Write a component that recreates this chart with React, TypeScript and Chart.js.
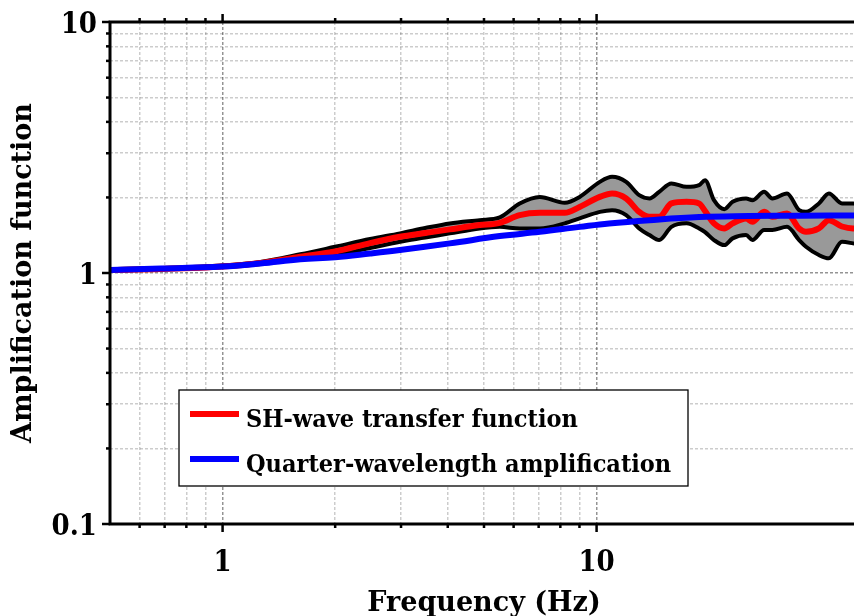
import React, { useEffect, useRef } from 'react';
import { Chart, registerables } from 'chart.js';

Chart.register(...registerables);

// Frequencies (Hz) at which the SH-wave curves were read
const freq = [0.5, 0.683, 1.0, 1.263, 1.614, 2.0, 2.48, 2.98, 3.48, 4.05, 4.87, 5.51, 6.23, 7.05, 8.22, 9.01, 10.2, 11.0, 12.0, 13.0, 13.85, 14.7, 15.85, 17.4, 18.8, 19.5, 20.6, 21.95, 23.1, 25.1, 26.1, 28.05, 29.5, 32.3, 34.8, 36.3, 39.3, 41.8, 45.3, 48.5, 50];
// Upper bound (black)
const upper = [1.037, 1.047, 1.071, 1.106, 1.187, 1.272, 1.365, 1.438, 1.51, 1.576, 1.624, 1.665, 1.893, 2.01, 1.905, 2.01, 2.307, 2.416, 2.307, 2.042, 1.982, 2.105, 2.275, 2.204, 2.239, 2.343, 1.951, 1.796, 1.921, 1.982, 1.951, 2.105, 1.982, 2.075, 1.78, 1.752, 1.893, 2.075, 1.893, 1.893, 1.88];
// Median SH-wave transfer function (red)
const median = [1.028, 1.037, 1.061, 1.096, 1.161, 1.218, 1.316, 1.394, 1.443, 1.492, 1.552, 1.585, 1.701, 1.737, 1.737, 1.834, 2.01, 2.075, 1.982, 1.752, 1.674, 1.674, 1.893, 1.921, 1.893, 1.765, 1.577, 1.505, 1.577, 1.65, 1.6, 1.752, 1.674, 1.727, 1.505, 1.459, 1.505, 1.624, 1.532, 1.505, 1.52];
// Lower bound (black)
const lower = [1.023, 1.033, 1.056, 1.086, 1.137, 1.179, 1.257, 1.332, 1.384, 1.438, 1.505, 1.527, 1.505, 1.505, 1.577, 1.65, 1.752, 1.78, 1.701, 1.505, 1.416, 1.353, 1.527, 1.577, 1.505, 1.455, 1.353, 1.292, 1.374, 1.416, 1.353, 1.483, 1.483, 1.527, 1.353, 1.272, 1.179, 1.144, 1.332, 1.312, 1.3];

// Quarter-wavelength amplification (blue)
const qwlFreq = [0.5, 0.683, 1.0, 1.263, 1.614, 2.0, 2.48, 2.98, 4.05, 5.51, 7.05, 9.01, 10.8, 13.85, 18.8, 25.5, 35, 50];
const qwlAmp = [1.028, 1.042, 1.061, 1.091, 1.134, 1.155, 1.195, 1.234, 1.312, 1.403, 1.459, 1.527, 1.576, 1.624, 1.67, 1.685, 1.692, 1.695];

// Axis ticks
const xTickValues = [0.5, 0.6, 0.7, 0.8, 0.9, 1, 2, 3, 4, 5, 6, 7, 8, 9, 10];
const xTickLabels = ['1', '10'];
const yTickValues = [0.1, 0.2, 0.3, 0.4, 0.5, 0.6, 0.7, 0.8, 0.9, 1, 2, 3, 4, 5, 6, 7, 8, 9, 10];
const yTickLabels = ['0.1', '1', '10'];

const labelSH = 'SH-wave transfer function';
const labelQWL = 'Quarter-wavelength amplification';

const isMajor = (v: number) => Math.abs(Math.log10(v) - Math.round(Math.log10(v))) < 1e-6;
const fmt = (v: number) => (v < 1 ? String(Number(v.toFixed(1))) : String(Math.round(v)));

const FONT = "'DejaVu Serif', serif";
const FONT_COND = "'DejaVu Serif Condensed', 'DejaVu Serif', serif";

const framePlugin = {
  id: 'frame',
  afterDatasetsDraw(chart: any) {
    const { ctx, chartArea: a, scales } = chart;
    const xs = scales.x;
    const ys = scales.y;
    ctx.save();
    ctx.strokeStyle = '#000';
    ctx.lineCap = 'butt';
    ctx.lineWidth = 2.5;
    for (const v of xTickValues) {
      const px = xs.getPixelForValue(v);
      if (px <= a.left + 2) continue;
      const len = isMajor(v) ? 8 : 4;
      ctx.beginPath();
      ctx.moveTo(px, a.bottom);
      ctx.lineTo(px, a.bottom + len);
      ctx.moveTo(px, a.top);
      ctx.lineTo(px, a.top - len);
      ctx.stroke();
    }
    for (const v of yTickValues) {
      const py = ys.getPixelForValue(v);
      const len = isMajor(v) ? 8 : 4;
      ctx.beginPath();
      ctx.moveTo(a.left, py);
      ctx.lineTo(a.left - len, py);
      ctx.stroke();
    }
    ctx.lineWidth = 3;
    ctx.beginPath();
    ctx.moveTo(a.right, a.top);
    ctx.lineTo(a.left, a.top);
    ctx.lineTo(a.left, a.bottom);
    ctx.lineTo(a.right, a.bottom);
    ctx.stroke();
    // y tick labels
    ctx.fillStyle = '#000';
    ctx.font = `bold 29px ${FONT_COND}`;
    ctx.textAlign = 'right';
    ctx.textBaseline = 'middle';
    for (const v of yTickValues) {
      const s = fmt(v);
      if (!isMajor(v) || !yTickLabels.includes(s)) continue;
      ctx.fillText(s, a.left - 13, ys.getPixelForValue(v) + 3);
    }
    ctx.restore();
  },
  afterDraw(chart: any) {
    const { ctx, chartArea: a } = chart;
    const bx = a.left + 69;
    const by = a.top + 368;
    const bw = 509;
    const bh = 96;
    ctx.save();
    ctx.fillStyle = '#fff';
    ctx.fillRect(bx, by, bw, bh);
    ctx.strokeStyle = '#000';
    ctx.lineWidth = 1.3;
    ctx.strokeRect(bx, by, bw, bh);
    const items = [
      { label: chart.data.datasets[1].label, color: chart.data.datasets[1].borderColor, y: by + 24 },
      { label: chart.data.datasets[0].label, color: chart.data.datasets[0].borderColor, y: by + 69 },
    ];
    ctx.font = `bold 25px ${FONT_COND}`;
    ctx.textBaseline = 'alphabetic';
    ctx.textAlign = 'left';
    for (const it of items) {
      ctx.strokeStyle = it.color;
      ctx.lineWidth = 6;
      ctx.beginPath();
      ctx.moveTo(bx + 11, it.y);
      ctx.lineTo(bx + 60, it.y);
      ctx.stroke();
      ctx.fillStyle = '#000';
      ctx.fillText(it.label, bx + 67, it.y + 13);
    }
    ctx.restore();
  },
};

export default function App() {
  const ref = useRef<HTMLCanvasElement | null>(null);
  useEffect(() => {
    if (!ref.current) return;
    const gridColor = (c: any) => {
      const v = c.tick ? c.tick.value : 0;
      return isMajor(v) ? 'rgba(0,0,0,0.42)' : 'rgba(0,0,0,0.2)';
    };
    const chart = new Chart(ref.current, {
      type: 'line',
      data: {
        datasets: [
          {
            label: labelQWL,
            data: qwlFreq.map((f, i) => ({ x: f, y: qwlAmp[i] })),
            borderColor: '#0000ff',
            borderWidth: 6,
            pointRadius: 0,
            tension: 0.4,
            fill: false,
          },
          {
            label: labelSH,
            data: freq.map((f, i) => ({ x: f, y: median[i] })),
            borderColor: '#ff0000',
            borderWidth: 6,
            pointRadius: 0,
            cubicInterpolationMode: 'monotone',
            fill: false,
          },
          {
            label: 'Upper bound',
            data: freq.map((f, i) => ({ x: f, y: upper[i] })),
            borderColor: '#000000',
            backgroundColor: '#999999',
            borderWidth: 4,
            pointRadius: 0,
            cubicInterpolationMode: 'monotone',
            fill: '+1',
          },
          {
            label: 'Lower bound',
            data: freq.map((f, i) => ({ x: f, y: lower[i] })),
            borderColor: '#000000',
            borderWidth: 4,
            pointRadius: 0,
            cubicInterpolationMode: 'monotone',
            fill: false,
          },
        ],
      } as any,
      options: {
        animation: false,
        responsive: false,
        maintainAspectRatio: false,
        layout: { padding: { left: 0, top: 22, right: 6, bottom: 0 } },
        plugins: {
          legend: { display: false },
          tooltip: { enabled: false },
          filler: { drawTime: 'beforeDatasetsDraw' },
        } as any,
        scales: {
          x: {
            type: 'logarithmic',
            min: 0.5,
            max: 50,
            position: 'bottom',
            border: { display: false, dash: [3, 2] },
            afterBuildTicks: (s: any) => {
              s.ticks = xTickValues.map((v) => ({ value: v }));
            },
            afterFit: (s: any) => {
              s.height = 92;
              s.paddingLeft = 0;
              s.paddingRight = 0;
            },
            grid: { drawTicks: false, color: gridColor, lineWidth: 1.5 },
            ticks: {
              autoSkip: false,
              maxRotation: 0,
              padding: 22,
              color: '#000',
              font: { family: FONT_COND, size: 29, weight: 'bold' },
              callback: (v: any) => (xTickLabels.includes(fmt(Number(v))) && isMajor(Number(v)) ? fmt(Number(v)) : ''),
            },
            title: {
              display: true,
              text: 'Frequency (Hz)',
              color: '#000',
              font: { family: FONT, size: 27, weight: 'bold' },
              padding: { top: 0, bottom: -4 },
            },
          },
          y: {
            type: 'logarithmic',
            min: 0.1,
            max: 10,
            position: 'left',
            border: { display: false, dash: [3, 2] },
            afterBuildTicks: (s: any) => {
              s.ticks = yTickValues.map((v) => ({ value: v }));
            },
            afterFit: (s: any) => {
              s.width = 110;
              s.paddingTop = 0;
              s.paddingBottom = 0;
            },
            grid: { drawTicks: false, color: gridColor, lineWidth: 1.5 },
            ticks: { display: false },
            title: {
              display: true,
              text: 'Amplification function',
              color: '#000',
              font: { family: FONT, size: 27, weight: 'bold' },
              padding: { top: 8, bottom: 0 },
            },
          },
        },
      } as any,
      plugins: [framePlugin],
    });
    return () => chart.destroy();
  }, []);
  return (
    <div style={{ position: 'absolute', left: 0, top: 0, width: 854, height: 616, overflow: 'hidden', background: '#fff' }}>
      <canvas ref={ref} width={864} height={616} style={{ display: 'block', width: 864, height: 616 }} />
    </div>
  );
}
